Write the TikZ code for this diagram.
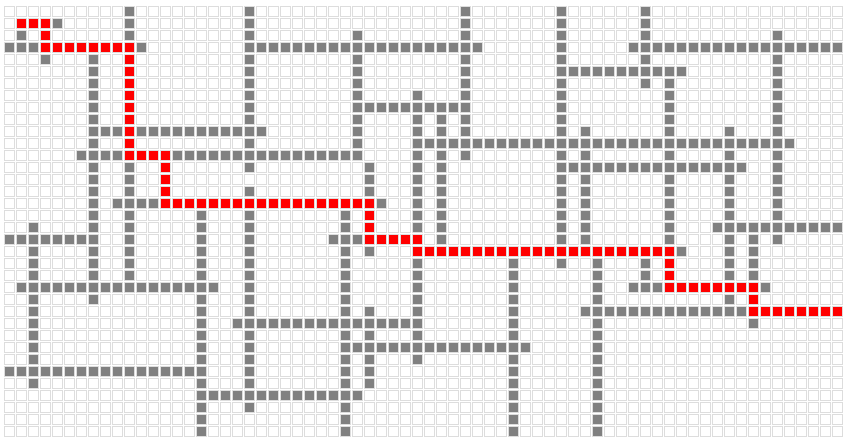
\documentclass[tikz,border=0pt]{standalone}
\usepackage{tikz}
\usepackage{xcolor}
\definecolor{cellline}{HTML}{DDDDDD}
\definecolor{wallgray}{HTML}{808080}
\tikzset{
  emptycell/.style={draw=cellline,line width=1.2pt,fill=white},
  wallcell/.style={emptycell,fill=wallgray},
  routecell/.style={emptycell,fill=red}
}
\newcommand{\gridcell}[3]{\draw[#1] (#2+0.08,#3+0.08) rectangle (#2+0.92,#3+0.92);}
\begin{document}
\begin{tikzpicture}[x=0.4cm,y=-0.4cm]
\useasboundingbox (-0.31,-0.44) rectangle (70.44,36.31);
\foreach \r in {0,...,35}{
  \foreach \c in {0,...,69}{\gridcell{emptycell}{\c}{\r}}
}
\foreach \r/\a/\b in {1/1/4,3/0/11,3/20/39,3/52/69,5/46/56,8/29/38,10/7/21,11/34/65,
  12/6/29,13/46/61,16/9/31,18/59/69,19/0/7,19/27/34,20/34/56,23/1/17,23/52/63,
  25/48/69,26/19/34,28/28/43,30/0/16,32/16/29}{
  \foreach \c in {\a,...,\b}{\gridcell{wallcell}{\c}{\r}}
}
\foreach \c/\a/\b in {1/1/3,2/18/31,3/1/4,7/3/24,10/0/23,16/16/35,20/0/13,20/15/33,
  28/16/35,29/2/12,30/13/20,30/25/31,34/7/29,36/9/20,38/0/12,42/20/35,46/0/21,
  48/10/20,49/20/35,53/0/6,53/21/23,55/6/23,60/10/25,62/18/26,64/2/19}{
  \foreach \r in {\a,...,\b}{\gridcell{wallcell}{\c}{\r}}
}
\foreach \r/\a/\b in {1/1/3,3/3/10,12/10/13,16/13/30,19/30/34,20/34/55,23/55/62,25/62/69}{
  \foreach \c in {\a,...,\b}{\gridcell{routecell}{\c}{\r}}
}
\foreach \c/\a/\b in {3/1/3,10/3/12,13/12/16,30/16/19,34/19/20,55/20/23,62/23/25}{
  \foreach \r in {\a,...,\b}{\gridcell{routecell}{\c}{\r}}
}
\end{tikzpicture}
\end{document}
